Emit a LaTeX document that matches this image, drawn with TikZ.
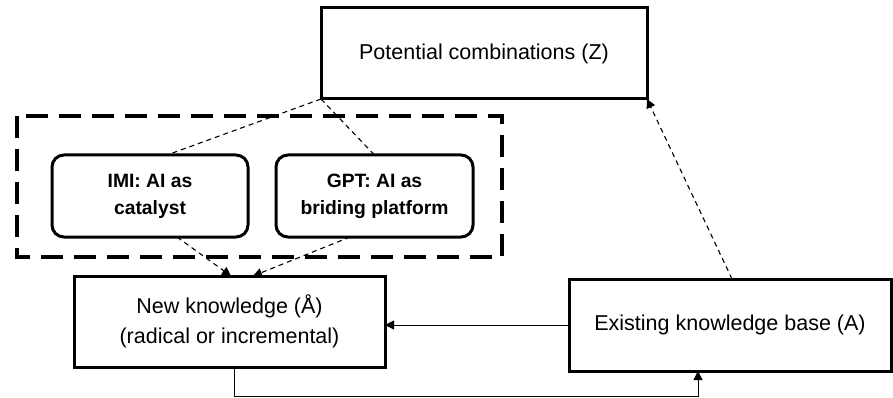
\documentclass[tikz,border=0pt]{standalone}
\usepackage{fontspec}
\setmainfont{Liberation Sans}
\usetikzlibrary{arrows.meta}
\begin{document}
\begin{tikzpicture}[x=1pt,y=-1pt,
  box/.style={draw=black,line width=3pt,rectangle,inner sep=0pt,outer sep=0pt,align=center,
    font=\fontsize{21.5}{30}\selectfont},
  aibox/.style={draw=black,line width=3pt,rectangle,rounded corners=12pt,inner sep=0pt,outer sep=0pt,
    align=center,font=\fontsize{19.3}{27}\selectfont\bfseries},
  group/.style={draw=black,line width=3.5pt,dash pattern=on 22pt off 11pt},
  flow/.style={line width=1pt,-{Triangle[width=9pt,length=9pt]}},
  link/.style={line width=1.1pt,dash pattern=on 5pt off 4pt},
  dflow/.style={link,-{Triangle[width=9pt,length=9pt]}}
]
\useasboundingbox (0,0) rectangle (893,398);

% boxes
\node[box,minimum width=326pt,minimum height=91pt] (pc) at (484,53.5) {Potential combinations (Z)};
\draw[group] (17,116) rectangle (502,257);
\node[aibox,minimum width=196pt,minimum height=82pt] (imi) at (150,196) {IMI: AI as\\catalyst};
\node[aibox,minimum width=197pt,minimum height=82pt] (gpt) at (374.5,196) {GPT: AI as\\briding platform};
\node[box,minimum width=311pt,minimum height=91pt] (nk) at (229.5,321.5) {New knowledge (Å)\\(radical or incremental)};
\node[box,minimum width=322pt,minimum height=92pt] (ekb) at (730,325) {Existing knowledge base (A)};

% links between the combination space and the two AI roles
\draw[link] (pc.south west) -- ([xshift=17pt]imi.north);
\draw[link] (pc.south west) -- (gpt.north);

% AI roles feeding new knowledge
\draw[dflow] ([xshift=27pt]imi.south) -- ([xshift=1.5pt]nk.north);
\draw[dflow] ([xshift=-24.5pt]gpt.south) -- ([xshift=23.5pt]nk.north);

% knowledge flows
\draw[flow] (ekb.west) -- (ekb.west -| nk.east);
\draw[flow] ([xshift=4.5pt]nk.south) -- ++(0,29.5) -| ([xshift=-32pt]ekb.south);
\draw[dflow] ([xshift=2pt]ekb.north) -- (pc.south east);
\end{tikzpicture}
\end{document}
